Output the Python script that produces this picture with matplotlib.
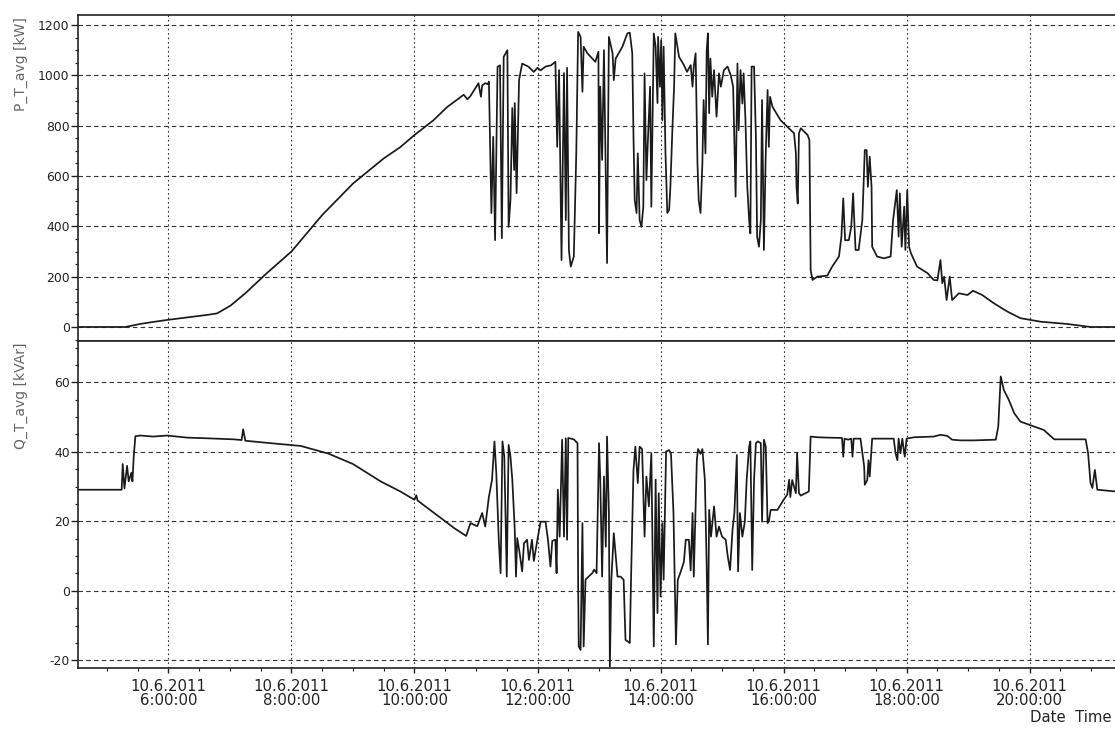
import numpy as np
import matplotlib
matplotlib.use("Agg")
import matplotlib.pyplot as plt
from matplotlib.ticker import MultipleLocator

plt.rcParams["axes.unicode_minus"] = False

# time of day in hours, 10.6.2011
p_time = [4.53, 5.30, 5.38, 5.54, 5.75, 5.98, 6.30, 6.63, 6.79, 7.01, 7.25, 7.60,
          8.00, 8.50, 9.00, 9.50, 9.77, 10.00, 10.31, 10.53, 10.80, 10.86, 10.91,
          11.04, 11.08, 11.10, 11.15, 11.19, 11.21, 11.25, 11.28, 11.31, 11.35, 11.39,
          11.42, 11.45, 11.51, 11.53, 11.56, 11.59, 11.62, 11.63, 11.66, 11.70, 11.75,
          11.85, 11.94, 12.00, 12.05, 12.13, 12.22, 12.29, 12.32, 12.35, 12.39, 12.43,
          12.46, 12.48, 12.51, 12.54, 12.59, 12.63, 12.66, 12.70, 12.73, 12.75, 12.81,
          12.94, 12.99, 13.00, 13.02, 13.05, 13.08, 13.11, 13.13, 13.16, 13.22, 13.24,
          13.27, 13.38, 13.46, 13.50, 13.54, 13.56, 13.58, 13.61, 13.63, 13.66, 13.69,
          13.72, 13.74, 13.77, 13.79, 13.83, 13.85, 13.87, 13.89, 13.92, 13.95, 13.96,
          13.99, 14.01, 14.03, 14.05, 14.08, 14.11, 14.14, 14.16, 14.19, 14.22, 14.24,
          14.30, 14.38, 14.43, 14.49, 14.52, 14.54, 14.57, 14.60, 14.62, 14.65, 14.68,
          14.70, 14.73, 14.75, 14.77, 14.79, 14.81, 14.84, 14.87, 14.91, 14.95, 14.98,
          15.03, 15.09, 15.14, 15.18, 15.22, 15.25, 15.27, 15.30, 15.33, 15.35, 15.38,
          15.41, 15.44, 15.46, 15.48, 15.52, 15.55, 15.57, 15.60, 15.63, 15.65, 15.68,
          15.71, 15.74, 15.76, 15.78, 15.82, 15.95, 16.06, 16.17, 16.20, 16.21, 16.23,
          16.25, 16.28, 16.39, 16.42, 16.44, 16.47, 16.55, 16.71, 16.79, 16.90, 16.94,
          16.97, 17.00, 17.06, 17.10, 17.13, 17.17, 17.22, 17.28, 17.32, 17.35, 17.37,
          17.40, 17.43, 17.44, 17.52, 17.63, 17.74, 17.78, 17.84, 17.87, 17.89, 17.92,
          17.96, 17.98, 18.01, 18.04, 18.07, 18.17, 18.34, 18.44, 18.50, 18.55, 18.58,
          18.61, 18.65, 18.70, 18.74, 18.85, 18.99, 19.08, 19.23, 19.42, 19.64, 19.85,
          20.18, 20.61, 20.99, 21.40]
p_kw = [0, 0, 4, 12, 20, 28, 38, 48, 54, 85, 134, 214,
        300, 445, 570, 670, 715, 763, 822, 874, 923, 905, 918,
        969, 915, 960, 969, 965, 975, 453, 756, 345, 1034, 1040,
        353, 1074, 1100, 398, 504, 870, 624, 890, 532, 981, 1047,
        1035, 1014, 1030, 1020, 1035, 1040, 1054, 716, 1021, 266, 1009,
        425, 1030, 306, 240, 280, 690, 1173, 1153, 935, 1114, 1088,
        1054, 1094, 373, 955, 664, 1100, 584, 254, 1153, 1088, 981,
        1067, 1114, 1167, 1170, 1088, 756, 504, 453, 690, 425, 398,
        478, 1008, 584, 716, 955, 478, 822, 1167, 1114, 890, 1153,
        955, 1140, 822, 1114, 690, 453, 466, 557, 770, 955, 1167,
        1074, 1041, 1014, 1041, 955, 1035, 1088, 651, 504, 453, 651,
        902, 690, 1100, 1167, 850, 1067, 915, 1021, 836, 1008, 955,
        1021, 1035, 1001, 955, 518, 1047, 782, 1021, 888, 1008, 822,
        557, 425, 372, 1035, 1035, 756, 359, 319, 425, 902, 306,
        690, 942, 716, 915, 875, 822, 796, 770, 690, 557, 491,
        770, 790, 763, 743, 226, 187, 200, 204, 240, 280, 359,
        511, 345, 345, 398, 531, 306, 306, 425, 703, 703, 557,
        677, 557, 319, 280, 273, 280, 425, 544, 359, 531, 319,
        478, 306, 544, 319, 293, 240, 214, 187, 185, 266, 174,
        200, 107, 200, 107, 134, 127, 144, 127, 94, 61, 35,
        21, 12, 0, 0]

q_time = [4.53, 5.24, 5.257, 5.285, 5.328, 5.354, 5.398, 5.415, 5.436, 5.463, 5.545,
          5.75, 5.98, 6.30, 6.63, 7.06, 7.19, 7.215, 7.25, 7.60, 8.15, 8.60, 9.00,
          9.45, 9.77, 10.00, 10.03, 10.05, 10.32, 10.65, 10.84, 10.91, 11.02, 11.10,
          11.15, 11.21, 11.26, 11.30, 11.33, 11.37, 11.40, 11.43, 11.46, 11.50, 11.53,
          11.56, 11.59, 11.63, 11.65, 11.67, 11.71, 11.75, 11.78, 11.83, 11.86, 11.91,
          11.94, 12.00, 12.05, 12.13, 12.17, 12.21, 12.24, 12.29, 12.31, 12.33, 12.36,
          12.40, 12.43, 12.46, 12.48, 12.50, 12.59, 12.65, 12.66, 12.67, 12.70, 12.73,
          12.75, 12.78, 12.83, 12.89, 12.92, 12.96, 13.00, 13.02, 13.05, 13.08, 13.11,
          13.13, 13.16, 13.176, 13.20, 13.24, 13.30, 13.35, 13.40, 13.43, 13.50, 13.52,
          13.56, 13.59, 13.63, 13.66, 13.70, 13.74, 13.77, 13.81, 13.85, 13.89, 13.92,
          13.95, 13.97, 14.00, 14.03, 14.05, 14.09, 14.14, 14.17, 14.21, 14.23, 14.25,
          14.28, 14.33, 14.38, 14.41, 14.46, 14.49, 14.52, 14.54, 14.59, 14.61, 14.65,
          14.68, 14.72, 14.75, 14.77, 14.79, 14.82, 14.87, 14.91, 14.95, 15.00, 15.06,
          15.09, 15.13, 15.17, 15.20, 15.24, 15.26, 15.29, 15.33, 15.37, 15.40, 15.44,
          15.46, 15.49, 15.52, 15.55, 15.58, 15.63, 15.65, 15.68, 15.71, 15.74, 15.76,
          15.79, 15.90, 16.00, 16.06, 16.09, 16.11, 16.14, 16.20, 16.22, 16.25, 16.28,
          16.41, 16.44, 16.55, 16.71, 16.95, 16.97, 16.99, 17.05, 17.10, 17.12, 17.14,
          17.25, 17.31, 17.32, 17.36, 17.38, 17.40, 17.44, 17.79, 17.82, 17.85, 17.87,
          17.90, 17.93, 17.97, 18.00, 18.12, 18.44, 18.55, 18.66, 18.74, 18.88, 19.09,
          19.45, 19.49, 19.53, 19.58, 19.66, 19.75, 19.85, 20.07, 20.23, 20.40, 20.91,
          20.95, 20.99, 21.02, 21.06, 21.10, 21.40]
q_kvar = [29.1, 29.1, 36.5, 29.5, 36.0, 31.5, 34.0, 31.5, 38.7, 44.5, 44.7,
          44.4, 44.7, 44.1, 43.9, 43.6, 43.4, 46.5, 43.2, 42.6, 41.7, 39.5, 36.5,
          31.5, 28.6, 26.2, 27.5, 26.0, 22.4, 18.0, 15.8, 19.5, 18.6, 22.4,
          18.5, 27.1, 31.9, 43.0, 33.9, 14.7, 5.1, 43.0, 38.7, 4.1, 42.0,
          38.7, 32.0, 17.6, 4.1, 15.2, 10.8, 5.6, 13.7, 14.7, 8.9, 14.7,
          8.6, 14.9, 19.9, 19.9, 14.7, 7.0, 14.4, 14.7, 5.1, 29.1, 15.6,
          43.5, 15.6, 43.9, 14.7, 44.0, 43.6, 42.5, 3.2, -16.0, -17.0, 19.5,
          -16.0, 3.2, 4.1, 5.1, 6.1, 5.1, 42.5, 32.0, 4.1, 32.9, 12.7,
          44.4, 22.4, -21.8, 3.2, 16.6, 4.1, 4.1, 3.2, -14.1, -15.0, 3.2,
          34.8, 41.5, 31.0, 41.5, 40.8, 15.6, 32.9, 24.3, 39.6, -16.0, 32.0,
          -6.4, 28.1, -1.6, 19.5, 3.2, 40.1, 40.5, 39.4, 22.4, 3.2, -15.4,
          3.2, 5.6, 8.4, 14.7, 14.7, 5.9, 22.4, 4.1, 37.7, 40.8, 39.4,
          40.8, 32.0, 7.0, -15.4, 23.3, 15.6, 24.3, 15.6, 18.5, 15.6, 14.7,
          10.2, 6.0, 17.6, 22.4, 39.1, 5.6, 22.4, 15.6, 19.9, 32.0, 41.5,
          43.0, 6.0, 32.0, 42.5, 43.0, 42.5, 19.9, 43.5, 41.5, 19.5, 19.9,
          23.3, 23.3, 26.2, 27.7, 32.0, 27.0, 31.9, 28.1, 39.6, 28.1, 27.4,
          28.6, 44.4, 44.2, 44.1, 44.0, 38.6, 43.8, 43.5, 43.8, 38.6, 43.8,
          43.8, 35.8, 30.5, 31.9, 37.6, 32.9, 43.8, 43.8, 39.6, 37.6, 43.8,
          39.6, 43.8, 38.6, 43.8, 44.2, 44.4, 44.9, 44.6, 43.5, 43.3, 43.3,
          43.5, 47.3, 61.7, 57.8, 55.0, 51.1, 48.7, 47.3, 46.3, 43.6, 43.6,
          39.6, 31.0, 29.6, 34.8, 29.1, 28.6]

hour_ticks = [6, 8, 10, 12, 14, 16, 18, 20]
hour_labels = ["10.6.2011\n6:00:00", "10.6.2011\n8:00:00", "10.6.2011\n10:00:00",
               "10.6.2011\n12:00:00", "10.6.2011\n14:00:00", "10.6.2011\n16:00:00",
               "10.6.2011\n18:00:00", "10.6.2011\n20:00:00"]

W, H = 1115, 733
fig = plt.figure(figsize=(W / 100, H / 100), dpi=100)
left = 78 / W
width = (1117 - 78) / W
ax1 = fig.add_axes([left, 1 - 341 / H, width, (341 - 15) / H])
ax2 = fig.add_axes([left, 1 - 668 / H, width, (668 - 341) / H], sharex=ax1)

line_kw = dict(color="#1a1a1a", lw=1.25)
ax1.plot(p_time, p_kw, **line_kw)
ax2.plot(q_time, q_kvar, **line_kw)

ax1.set_xlim(4.53, 21.42)
ax1.set_ylim(-55.7, 1240)
ax2.set_ylim(-22.2, 71.9)

ax1.set_yticks([0, 200, 400, 600, 800, 1000, 1200])
ax1.yaxis.set_minor_locator(MultipleLocator(50))
ax2.set_yticks([-20, 0, 20, 40, 60])
ax2.yaxis.set_minor_locator(MultipleLocator(5))
ax2.set_xticks(hour_ticks, hour_labels)
ax2.xaxis.set_minor_locator(MultipleLocator(0.5))
for lab in ax2.get_xticklabels():
    lab.set_linespacing(0.95)

for ax in (ax1, ax2):
    ax.grid(axis="y", which="major", color="#333333", lw=0.8, linestyle=(0, (4, 3)))
    ax.grid(axis="x", which="major", color="#333333", lw=0.8, linestyle=(0, (1.5, 2.5)))
    ax.spines["right"].set_visible(False)
    for s in ("top", "bottom", "left"):
        ax.spines[s].set_linewidth(1.2)
        ax.spines[s].set_color("#222222")
    ax.tick_params(axis="y", which="major", length=5, width=1, pad=1,
                   labelsize=8.9, colors="#222222")
    ax.tick_params(axis="y", which="minor", length=2.5, width=0.8, colors="#222222")

ax1.tick_params(axis="x", which="both", length=0, labelbottom=False)
ax2.tick_params(axis="x", which="major", length=3.6, width=1, pad=4.2,
                labelsize=10.7, colors="#222222")
ax2.tick_params(axis="x", which="minor", length=2.2, width=0.8, colors="#222222")

ax1.set_ylabel("P_T_avg [kW]", loc="top", color="#666666", fontsize=10)
ax2.set_ylabel("Q_T_avg [kVAr]", loc="top", color="#666666", fontsize=10)
ax1.yaxis.set_label_coords(-0.048, 0.995)
ax2.yaxis.set_label_coords(-0.048, 0.995)

fig.text(1030 / W, 1 - 718 / H, "Date  Time", ha="left", va="center",
         fontsize=10.7, color="#222222")

fig.savefig("out.png", dpi=100)
